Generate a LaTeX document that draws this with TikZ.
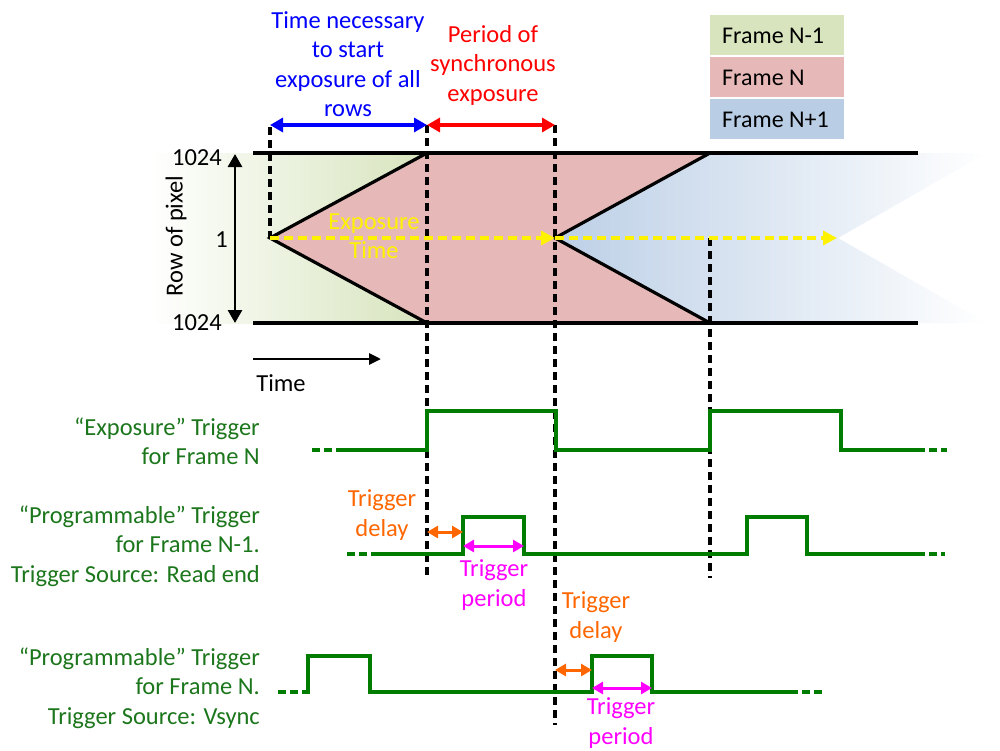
\documentclass[tikz,border=0pt]{standalone}
\usepackage{fontspec}
\setmainfont{Carlito}
\usetikzlibrary{arrows.meta}
\definecolor{fgreen}{RGB}{215,228,189}
\definecolor{fpink}{RGB}{230,185,184}
\definecolor{fblue}{RGB}{185,205,229}
\definecolor{tgreen}{RGB}{28,118,28}
\definecolor{wgreen}{RGB}{0,125,0}
\definecolor{torange}{RGB}{255,102,0}
\definecolor{tmag}{RGB}{255,0,255}
\begin{document}
\begin{tikzpicture}[x=1pt,y=-1pt,
  txt/.style={font=\fontsize{24.5}{29.5}\selectfont, align=center, inner sep=0},
  glabel/.style={font=\fontsize{24.5}{29.5}\selectfont, text=tgreen, align=right, anchor=east, inner sep=0},
  legtxt/.style={font=\fontsize{24}{28}\selectfont, anchor=west, inner sep=0},
  vdash/.style={black, line width=3.2pt, dash pattern=on 8pt off 5pt},
  edge/.style={black, line width=3.2pt},
  wave/.style={wgreen, line width=3.2pt},
  wavedash/.style={wgreen, line width=3.2pt, dash pattern=on 8pt off 4pt},
  dbl/.style={line width=3pt, {Triangle[length=11pt,width=12pt]}-{Triangle[length=11pt,width=12pt]}},
  big/.style={line width=3.2pt, {Triangle[length=13pt,width=14pt]}-{Triangle[length=13pt,width=14pt]}},
  yarrow/.style={yellow, line width=3.2pt, dash pattern=on 9pt off 5pt, -{Triangle[length=14pt,width=14pt]}}
]
\useasboundingbox (0,0) rectangle (1000,750);

% coordinates
\coordinate (s0) at (270,238);
\coordinate (s1) at (555,238);
\coordinate (t1) at (427,153);
\coordinate (b1) at (427,323);
\coordinate (t2) at (710,153);
\coordinate (b2) at (710,323);

% fills
\shade[left color=white, right color=fgreen] (150,153) rectangle (427,323);
\shade[left color=fblue!95!white, right color=white] (555,238) -- (710,153) -- (987,153) -- (838,238) -- (987,323) -- (710,323) -- cycle;
\fill[fpink] (s0) -- (t1) -- (t2) -- (s1) -- (b2) -- (b1) -- cycle;

% horizontal lines
\coordinate (tl) at (253,153); \coordinate (tr) at (918,153);
\coordinate (bl) at (253,323); \coordinate (br) at (918,323);
\draw[edge] (tl) -- (tr);
\draw[edge] (bl) -- (br);
\draw[edge] (t1) -- (s0) -- (b1);
\draw[edge] (t2) -- (s1) -- (b2);

% dashed verticals
\coordinate (d0t) at (270,127);
\coordinate (d1t) at (427,125); \coordinate (d1b) at (427,578);
\coordinate (d2t) at (555,125); \coordinate (d2b) at (555,725);
\coordinate (d3t) at (710,238); \coordinate (d3b) at (710,578);
\draw[vdash] (d0t) -- (s0);
\draw[vdash] (d1t) -- (d1b);
\draw[vdash] (d2t) -- (d2b);
\draw[vdash] (d3t) -- (d3b);

% yellow arrows
\coordinate (yend) at (837,238);
\draw[yarrow] (s0) -- (s1);
\draw[yarrow] (s1) -- (yend);
\node[txt, text=yellow] (exp) at (374,236) {Exposure\\Time};

% top arrows
\coordinate (a0) at (270,125); \coordinate (a1) at (427,125); \coordinate (a2) at (555,125);
\draw[big, blue] (a0) -- (a1);
\draw[big, red] (a1) -- (a2);
\node[txt, text=blue] (tn) at (348,64) {Time necessary\\to start\\exposure of all\\rows};
\node[txt, text=red] (ps) at (493,65) {Period of\\synchronous\\exposure};

% legend
\fill[fgreen] (710,15) rectangle (844,55);
\fill[fpink] (710,57) rectangle (844,97);
\fill[fblue] (710,99) rectangle (844,139);
\node[legtxt] (l1) at (722,36) {Frame N-1};
\node[legtxt] (l2) at (722,78) {Frame N};
\node[legtxt] (l3) at (722,120) {Frame N+1};

% row axis
\coordinate (ra) at (235,154); \coordinate (rb) at (235,323);
\draw[big, black, line width=2.8pt] (ra) -- (rb);
\node[txt, anchor=east] (n1) at (222,158) {1024};
\node[txt, anchor=east] (n2) at (228,240) {1};
\node[txt, anchor=east] (n3) at (222,323) {1024};
\node[txt, rotate=90] (rp) at (176,236) {Row of pixel};

% time arrow
\coordinate (ta) at (253,359); \coordinate (tb) at (381,359);
\draw[black, line width=2.8pt, -{Triangle[length=12pt,width=11pt]}] (ta) -- (tb);
\node[txt] (tm) at (281,383) {Time};

% waveform 1
\draw[wavedash] (312,450) -- (340,450);
\draw[wave] (340,450) -- (427,450) -- (427,411) -- (556,411) -- (556,450) -- (710,450) -- (710,411) -- (841,411) -- (841,450) -- (917,450);
\draw[wavedash] (917,450) -- (947,450);
\node[glabel] (g1) at (260,441) {“Exposure” Trigger\\for Frame N};

% waveform 2
\draw[wavedash] (347,554) -- (372,554);
\draw[wave] (372,554) -- (463,554) -- (463,517) -- (524,517) -- (524,554) -- (747,554) -- (747,517) -- (807,517) -- (807,554) -- (917,554);
\draw[wavedash] (917,554) -- (945,554);
\node[glabel] (g2) at (260,546) {“Programmable” Trigger\\for Frame N-1.\\Trigger Source: Read end};

% waveform 3
\draw[wavedash] (278,692) -- (305,692);
\draw[wave] (305,692) -- (308,692) -- (308,656) -- (370,656) -- (370,692) -- (592,692) -- (592,656) -- (652,656) -- (652,692) -- (790,692);
\draw[wavedash] (790,692) -- (822,692);
\node[glabel] (g3) at (260,688) {“Programmable” Trigger\\for Frame N.\\Trigger Source: Vsync};

% trigger delay / period arrows
\coordinate (da1) at (427,532); \coordinate (db1) at (463,532);
\coordinate (pa1) at (463,546); \coordinate (pb1) at (524,546);
\coordinate (da2) at (555,670); \coordinate (db2) at (592,670);
\coordinate (pa2) at (592,688); \coordinate (pb2) at (652,688);
\draw[dbl, torange] (da1) -- (db1);
\draw[dbl, tmag] (pa1) -- (pb1);
\draw[dbl, torange] (da2) -- (db2);
\draw[dbl, tmag] (pa2) -- (pb2);
\node[txt, text=torange] (td1) at (382,515) {Trigger\\delay};
\node[txt, text=tmag] (tp1) at (494,585) {Trigger\\period};
\node[txt, text=torange] (td2) at (596,617) {Trigger\\delay};
\node[txt, text=tmag] (tp2) at (621,723) {Trigger\\period};
\end{tikzpicture}
\end{document}
